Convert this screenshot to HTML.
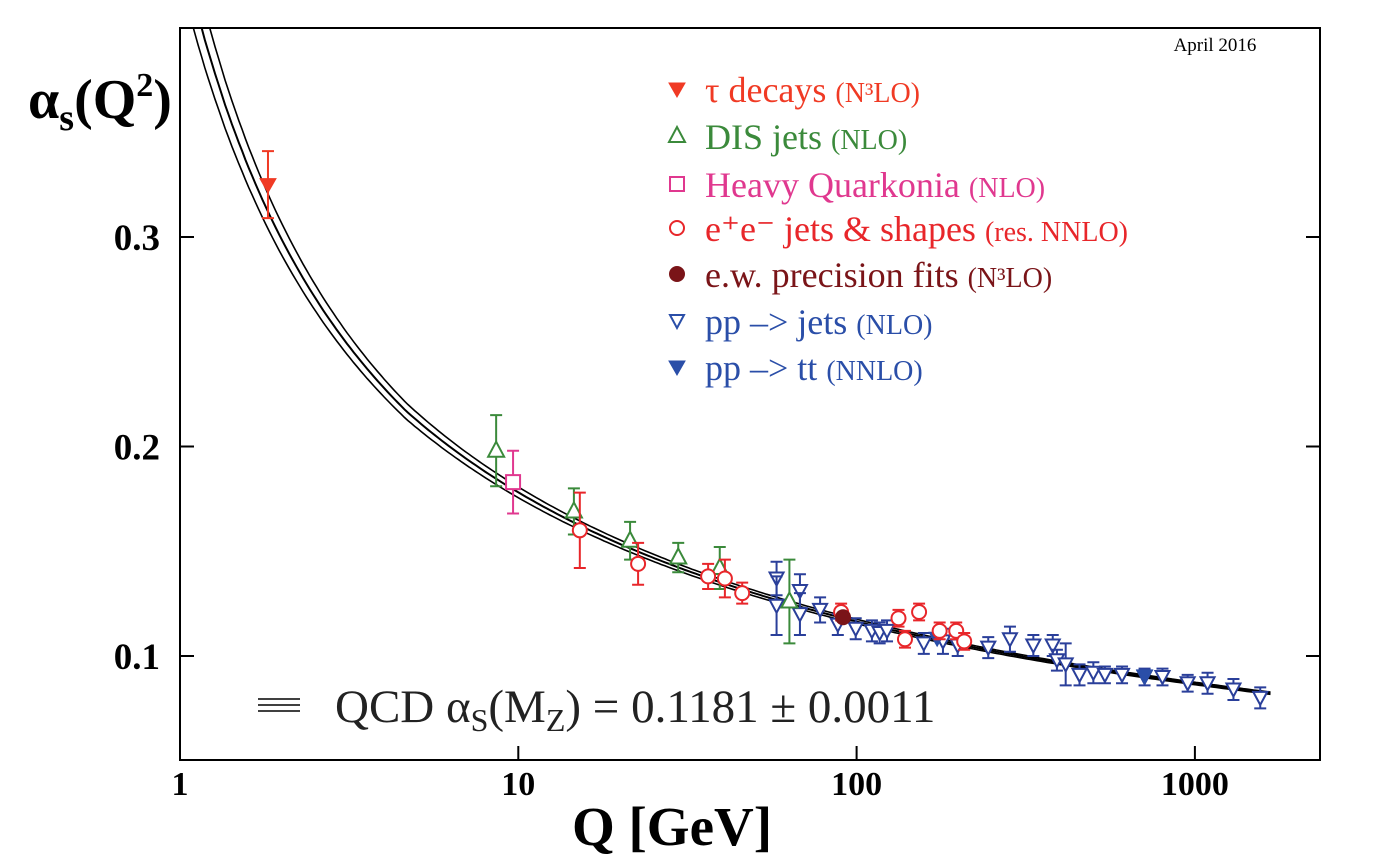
<!DOCTYPE html>
<html><head><meta charset="utf-8"><style>
body{margin:0;background:#fff}
svg{display:block;font-family:"Liberation Serif",serif}
</style></head><body>
<svg id="c" width="1382" height="864">
<defs><clipPath id="pc"><rect x="180" y="28" width="1140" height="732"/></clipPath></defs>
<rect x="180" y="28" width="1140" height="732" fill="none" stroke="#000" stroke-width="2"/>
<g id="ax"></g>
<g id="curves" clip-path="url(#pc)"></g>
<g id="pts"></g>
<text x="1215" y="51" font-size="19" text-anchor="middle">April 2016</text>
<text x="28" y="118" font-size="56" font-weight="bold">α<tspan font-size="38" dy="12">s</tspan><tspan dy="-12">(Q</tspan><tspan font-size="34" dy="-22">2</tspan><tspan dy="22">)</tspan></text>
<text x="672" y="845" font-size="55" font-weight="bold" text-anchor="middle">Q [GeV]</text>
<g id="leg"></g>
<g>
<line x1="258" y1="699" x2="300" y2="699" stroke="#000" stroke-width="1.5"/>
<line x1="258" y1="705" x2="300" y2="705" stroke="#000" stroke-width="1.5"/>
<line x1="258" y1="711" x2="300" y2="711" stroke="#000" stroke-width="1.5"/>
<text x="335" y="722" font-size="47" fill="#222">QCD α<tspan font-size="32" dy="9">S</tspan><tspan dy="-9">(M</tspan><tspan font-size="32" dy="9">Z</tspan><tspan dy="-9">) = 0.1181 ± 0.0011</tspan></text>
</g>
</svg>
<script>
const tauQ=[1.82], tauA=[0.325], tauE=[0.016];
const disQ=[8.6,14.6,21.4,29.7,39.4,63.3], disA=[0.198,0.169,0.155,0.147,0.142,0.126], disE=[0.017,0.011,0.009,0.007,0.010,0.020];
const hqQ=[9.65], hqA=[0.183], hqE=[0.015];
const eeQ=[15.2,22.6,36.4,40.8,45.9,90.0,133,153,176,197,208,139], eeA=[0.160,0.144,0.138,0.137,0.130,0.121,0.118,0.121,0.112,0.112,0.107,0.108], eeE=[0.018,0.010,0.006,0.009,0.005,0.004,0.004,0.004,0.004,0.004,0.004,0.004];
const ewQ=[91.2], ewA=[0.1185], ewE=[0.002];
const ppQ=[58,58,68,68,78,88,99.4,111,117,123,158,180,199,245,284,333,380,391,415,456,501,542,609,710,802,952,1090,1300,1560],
ppA=[0.137,0.124,0.131,0.120,0.122,0.115,0.113,0.112,0.111,0.112,0.106,0.107,0.105,0.104,0.108,0.105,0.105,0.098,0.096,0.091,0.092,0.091,0.091,0.090,0.090,0.087,0.087,0.084,0.080],
ppE=[0.008,0.014,0.008,0.010,0.006,0.005,0.005,0.005,0.005,0.005,0.005,0.006,0.005,0.005,0.006,0.005,0.005,0.005,0.010,0.005,0.005,0.004,0.004,0.004,0.004,0.004,0.005,0.005,0.005];
const ttQ=[173,710], ttA=[0.1085,0.0905];
const yTicks=[0.1,0.2,0.3], xTicks=[1,10,100,1000], xTickLabels=["1","10","100","1000"];
const alphaMZ=[0.1170,0.1181,0.1192];

const NS="http://www.w3.org/2000/svg";
const X=q=>180+338.3*Math.log10(q), Y=a=>656-(a-0.1)*2095;
function el(t,at,p){const e=document.createElementNS(NS,t);for(const k in at)e.setAttribute(k,at[k]);p.appendChild(e);return e;}
const ax=document.getElementById('ax');
yTicks.forEach(v=>{
 let l=el('line',{x1:180,x2:194,y1:Y(v),y2:Y(v),stroke:'#000','stroke-width':2},ax);
 
 
 let r=el('line',{x1:1306,x2:1320,y1:Y(v),y2:Y(v),stroke:'#000','stroke-width':2},ax);
 
 
 let t=el('text',{x:160,y:Y(v)+13,'font-size':37,'font-weight':'bold','text-anchor':'end'},ax);
 
 
 t.textContent=v.toFixed(1);
});
xTicks.forEach((v,i)=>{
 let l=el('line',{x1:X(v),x2:X(v),y1:746,y2:760,stroke:'#000','stroke-width':2},ax);
 
 
 let t=el('text',{x:X(v),y:795,'font-size':34,'font-weight':'bold','text-anchor':'middle'},ax);
 
 
 t.textContent=xTickLabels[i];
});
function run(a0,Q){let t=Math.log(91.1876*91.1876),tEnd=Math.log(Q*Q),n=400,h=(tEnd-t)/n,a=a0;
 for(let i=0;i<n;i++){const q=Math.exp((t+h*i)/2),nf=q>4.7?5:4;const b0=(33-2*nf)/(12*Math.PI),b1=(153-19*nf)/(24*Math.PI*Math.PI);
  const f=x=>-b0*x*x-b1*x*x*x;const k1=f(a),k2=f(a+h*k1/2),k3=f(a+h*k2/2),k4=f(a+h*k3);a+=h*(k1+2*k2+2*k3+k4)/6;if(a>1)return 1;}
 return a;}
const cg=document.getElementById('curves');
alphaMZ.forEach(a0=>{let d='';for(let lq=Math.log10(1.08);lq<=Math.log10(1700);lq+=0.01){const q=Math.pow(10,lq);d+=(d?'L':'M')+X(q).toFixed(1)+','+Y(run(a0,q)).toFixed(1);}
 const p=el('path',{d:d,fill:'none',stroke:'#000','stroke-width':a0===0.1181?2:1.6},cg);
 
 
});
const pg=document.getElementById('pts');
function marker(type,x,y,c,g){let m;
 if(type==='tri') m=el('path',{d:`M${x},${y-9}L${x+8},${y+6}L${x-8},${y+6}Z`,fill:'#fff',stroke:c,'stroke-width':2},g);
 else if(type==='dtri') m=el('path',{d:`M${x-7},${y-6}L${x+7},${y-6}L${x},${y+7}Z`,fill:'#fff',stroke:c,'stroke-width':2},g);
 else if(type==='fdtri') m=el('path',{d:`M${x-8},${y-6}L${x+8},${y-6}L${x},${y+8}Z`,fill:c,stroke:c,'stroke-width':1},g);
 else if(type==='sq') m=el('rect',{x:x-7,y:y-7,width:14,height:14,fill:'#fff',stroke:c,'stroke-width':2},g);
 else if(type==='circ') m=el('circle',{cx:x,cy:y,r:7,fill:'#fff',stroke:c,'stroke-width':2},g);
 else m=el('circle',{cx:x,cy:y,r:8,fill:c},g);
 return m;}
function series(name,Q,A,E,type,c){const g=el('g',{},pg);
 Q.forEach((q,i)=>{const x=X(q),y=Y(A[i]);
  if(E){const y1=Y(A[i]+E[i]),y2=Y(A[i]-E[i]);
   const b=el('path',{d:`M${x},${y1}L${x},${y2}M${x-6},${y1}L${x+6},${y1}M${x-6},${y2}L${x+6},${y2}`,stroke:c,'stroke-width':2,fill:'none'},g);
   
   }
  const m=marker(type,x,y,c,g);
  
  
 });}
series('pp-jets',ppQ,ppA,ppE,'dtri','#2a3f9a');
series('pp-tt',ttQ,ttA,null,'fdtri','#2a4ea8');
series('dis-jets',disQ,disA,disE,'tri','#3b8a3b');
series('heavy-quarkonia',hqQ,hqA,hqE,'sq','#e0388f');
series('ee-jets',eeQ,eeA,eeE,'circ','#e8262a');
series('ew-fits',ewQ,ewA,ewE,'fcirc','#7a1418');
series('tau-decays',tauQ,tauA,tauE,'fdtri','#f03a24');
const lg=document.getElementById('leg');
const legRows=[['fdtri','#f03a24','τ decays ','(N³LO)',90],['tri','#3b8a3b','DIS jets ','(NLO)',137],['sq','#e0388f','Heavy Quarkonia ','(NLO)',185],['circ','#e8262a','e⁺e⁻ jets & shapes ','(res. NNLO)',229],['fcirc','#7a1418','e.w. precision fits ','(N³LO)',275],['dtri','#2a4ea8','pp –> jets ','(NLO)',322],['fdtri','#2a4ea8','pp –> tt ','(NNLO)',368]];
legRows.forEach(r=>{const g=el('g',{},lg);
 const m=marker(r[0],677,r[4]-1,r[1],g);
 const t=el('text',{x:705,y:r[4]+12,'font-size':36,fill:r[1]},g);t.textContent=r[2];
 const s=el('tspan',{'font-size':28},t);s.textContent=r[3];});
</script>
</body></html>
